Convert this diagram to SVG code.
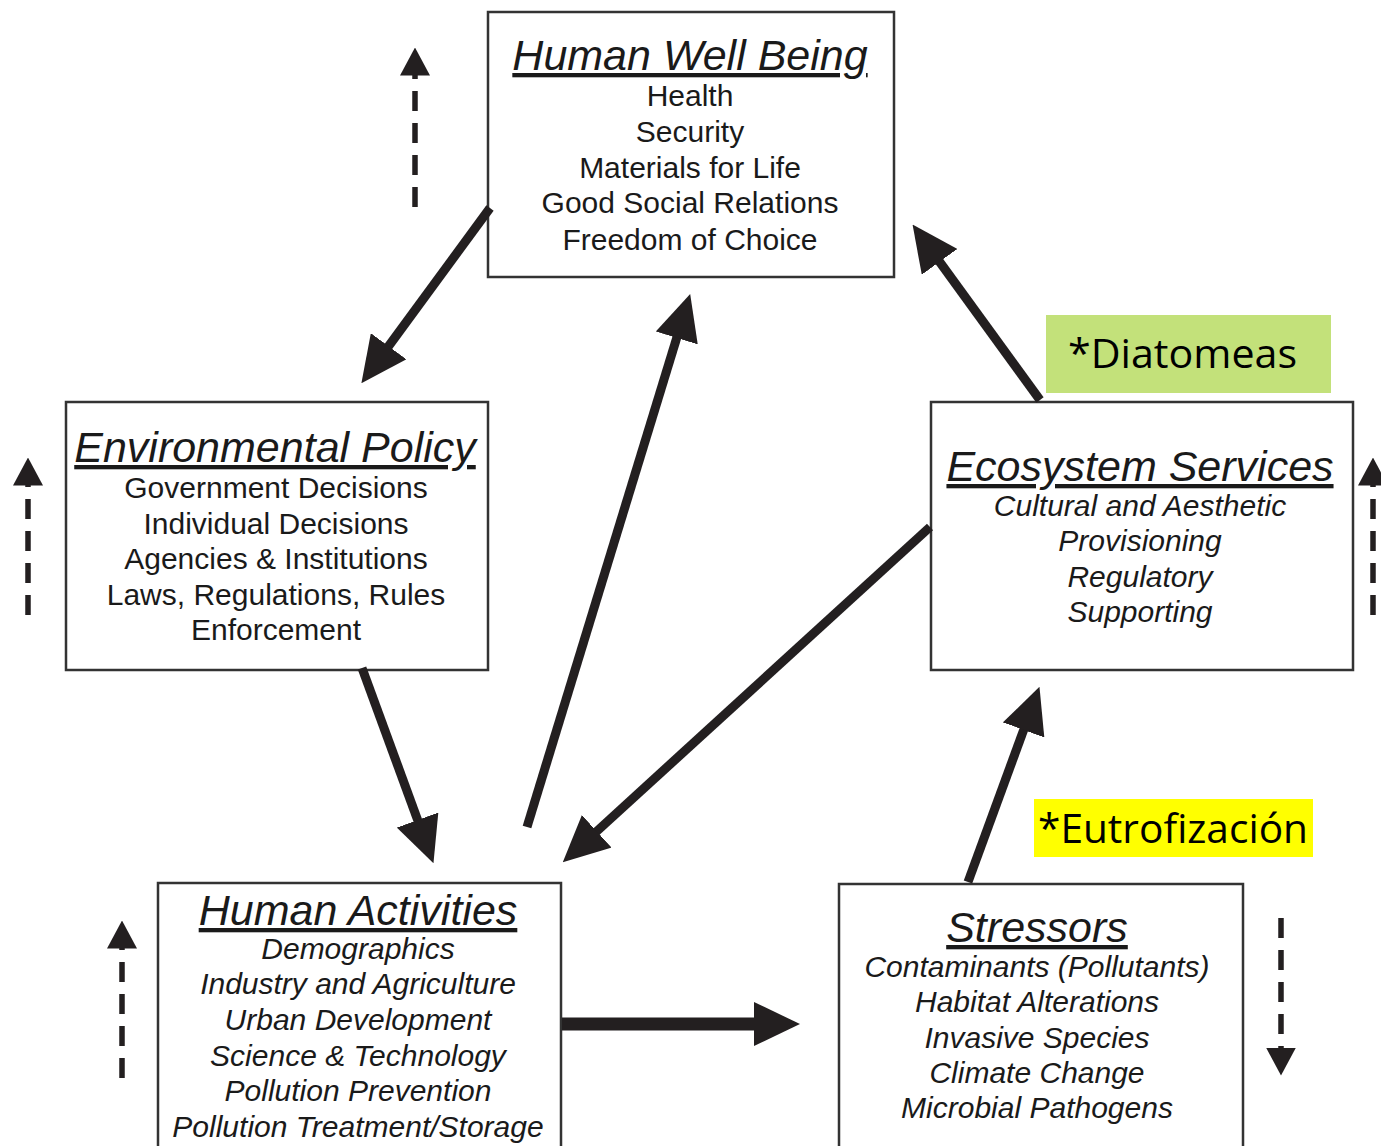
<svg xmlns="http://www.w3.org/2000/svg" width="1381" height="1146" viewBox="0 0 1381 1146">
  <style>
    .box { fill: #ffffff; stroke: #333333; stroke-width: 2.5; }
    .title { font-family: "Liberation Sans", Arial, sans-serif; font-size: 43px; font-style: italic; text-decoration: underline; fill: #1a1a1a; text-anchor: middle; }
    .item { font-family: "Liberation Sans", Arial, sans-serif; font-size: 30px; fill: #1a1a1a; text-anchor: middle; }
    .it { font-style: italic; }
    .flow { stroke: #231f20; stroke-width: 9; fill: none; marker-end: url(#head); }
    .trend { stroke: #231f20; stroke-width: 5.5; fill: none; stroke-dasharray: 20 12; marker-end: url(#smallhead); }
    .note { font-family: "Open Sans", "Noto Sans", sans-serif; font-size: 40px; fill: #000000; }
  </style>
  <defs>
    <marker id="head" markerUnits="userSpaceOnUse" viewBox="0 0 46 44" markerWidth="46" markerHeight="44" refX="1" refY="22" orient="auto">
      <path d="M0,0 L46,22 L0,44 z" fill="#231f20"/>
    </marker>
    <marker id="smallhead" markerUnits="userSpaceOnUse" viewBox="0 0 28 30" markerWidth="28" markerHeight="30" refX="0.5" refY="15" orient="auto">
      <path d="M0,0 L28,15 L0,30 z" fill="#231f20"/>
    </marker>
  </defs>

  <rect width="1381" height="1146" fill="#ffffff"/>

  <!-- Human Well Being -->
  <g id="human-well-being">
    <rect class="box" x="488" y="12" width="406" height="265"/>
    <text class="title" x="690" y="70">Human Well Being</text>
    <text class="item" x="690" y="106">Health</text>
    <text class="item" x="690" y="142">Security</text>
    <text class="item" x="690" y="178">Materials for Life</text>
    <text class="item" x="690" y="213">Good Social Relations</text>
    <text class="item" x="690" y="250">Freedom of Choice</text>
  </g>

  <!-- Environmental Policy -->
  <g id="environmental-policy">
    <rect class="box" x="66" y="402" width="422" height="268"/>
    <text class="title" x="275" y="462">Environmental Policy</text>
    <text class="item" x="276" y="498">Government Decisions</text>
    <text class="item" x="276" y="534">Individual Decisions</text>
    <text class="item" x="276" y="569">Agencies &amp; Institutions</text>
    <text class="item" x="276" y="605">Laws, Regulations, Rules</text>
    <text class="item" x="276" y="640">Enforcement</text>
  </g>

  <!-- Ecosystem Services -->
  <g id="ecosystem-services">
    <rect class="box" x="931" y="402" width="422" height="268"/>
    <text class="title" x="1140" y="481">Ecosystem Services</text>
    <text class="item it" x="1140" y="516">Cultural and Aesthetic</text>
    <text class="item it" x="1140" y="551">Provisioning</text>
    <text class="item it" x="1140" y="587">Regulatory</text>
    <text class="item it" x="1140" y="622">Supporting</text>
  </g>

  <!-- Human Activities -->
  <g id="human-activities">
    <rect class="box" x="158" y="883" width="403" height="280"/>
    <text class="title" x="358" y="925">Human Activities</text>
    <text class="item it" x="358" y="959">Demographics</text>
    <text class="item it" x="358" y="994">Industry and Agriculture</text>
    <text class="item it" x="358" y="1030">Urban Development</text>
    <text class="item it" x="358" y="1066">Science &amp; Technology</text>
    <text class="item it" x="358" y="1101">Pollution Prevention</text>
    <text class="item it" x="358" y="1137">Pollution Treatment/Storage</text>
  </g>

  <!-- Stressors -->
  <g id="stressors">
    <rect class="box" x="839" y="884" width="404" height="280"/>
    <text class="title" x="1037" y="942">Stressors</text>
    <text class="item it" x="1037" y="977">Contaminants (Pollutants)</text>
    <text class="item it" x="1037" y="1012">Habitat Alterations</text>
    <text class="item it" x="1037" y="1048">Invasive Species</text>
    <text class="item it" x="1037" y="1083">Climate Change</text>
    <text class="item it" x="1037" y="1118">Microbial Pathogens</text>
  </g>

  <!-- Highlighted notes -->
  <g id="note-diatomeas">
    <rect x="1046" y="315" width="285" height="78" fill="#c3e17a"/>
    <text class="note" x="1068" y="368" textLength="229" lengthAdjust="spacingAndGlyphs">*Diatomeas</text>
  </g>
  <g id="note-eutrofizacion">
    <rect x="1034" y="799" width="279" height="58" fill="#ffff00"/>
    <text class="note" x="1038" y="843" textLength="270" lengthAdjust="spacingAndGlyphs">*Eutrofización</text>
  </g>

  <!-- Connectors -->
  <g id="connectors">
    <line class="flow" x1="490" y1="208" x2="388" y2="347"/>
    <line class="flow" x1="362" y1="668" x2="418" y2="821"/>
    <line class="flow" x1="527" y1="827" x2="677" y2="337"/>
    <line class="flow" x1="930" y1="527" x2="596" y2="832"/>
    <line class="flow" x1="1040" y1="400" x2="939" y2="261"/>
    <line class="flow" x1="968" y1="882" x2="1024" y2="729"/>
    <line class="flow" x1="562" y1="1024" x2="755" y2="1024" style="stroke-width:13"/>

    <!-- trend indicators -->
    <line class="trend" x1="415" y1="207" x2="415" y2="75"/>
    <line class="trend" x1="28" y1="615" x2="28" y2="485"/>
    <line class="trend" x1="1373" y1="615" x2="1373" y2="485"/>
    <line class="trend" x1="122" y1="1078" x2="122" y2="948"/>
    <line class="trend" x1="1281" y1="918" x2="1281" y2="1048"/>
  </g>
</svg>
